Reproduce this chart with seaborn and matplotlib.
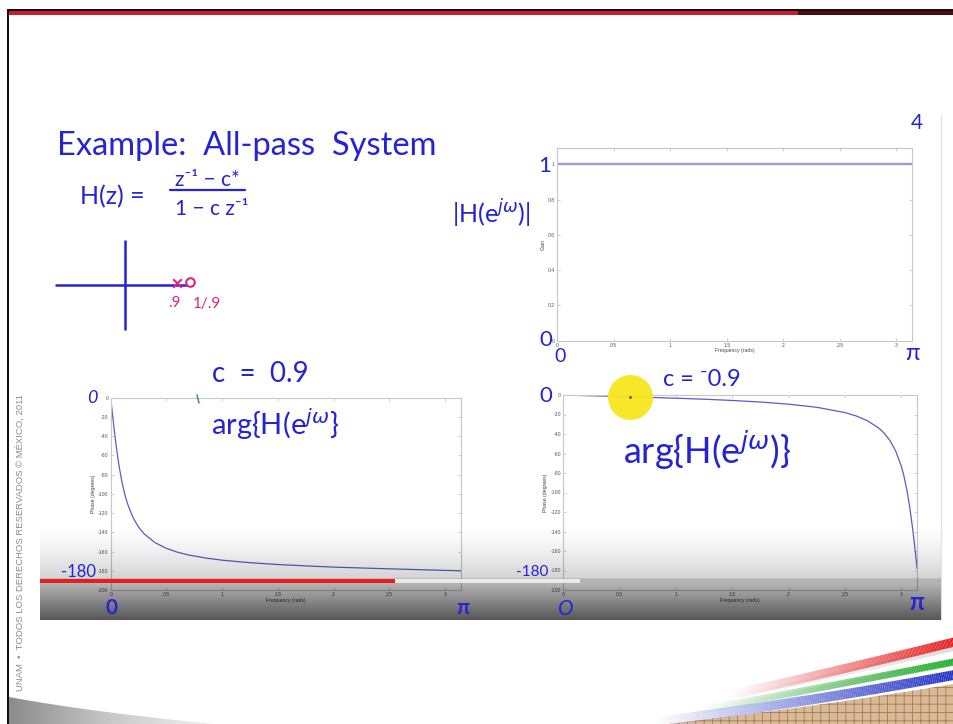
import numpy as np
import matplotlib
matplotlib.use("Agg")
import matplotlib.pyplot as plt
import matplotlib.colors as mcolors
from matplotlib.collections import LineCollection
from matplotlib.patches import Polygon, Circle, Rectangle
import seaborn as sns

# ---------------------------------------------------------------------------
# Data: all-pass system H(z) = (z^-1 - c*) / (1 - c z^-1)
# ---------------------------------------------------------------------------
gain_freq = [0.0, np.pi]
gain_vals = [1.0, 1.0]

# phase response, c = 0.9 (degrees)
phase_pos_freq = [0.0, 0.01, 0.02, 0.035, 0.05, 0.075, 0.1, 0.125, 0.15, 0.2,
                  0.25, 0.3, 0.4, 0.5, 0.6, 0.7, 0.85, 1.0, 1.25, 1.5, 1.75,
                  2.0, 2.5, 3.0, 3.14]
phase_pos_deg = [0.0, -10.9, -21.5, -36.8, -50.8, -71.0, -87.1, -99.9, -110.0,
                 -124.6, -134.5, -141.6, -150.9, -156.7, -160.7, -163.6, -166.7,
                 -169.0, -171.6, -173.5, -174.9, -176.2, -178.0, -179.6, -180.0]

# phase response, c = -0.9 (degrees)
phase_neg_freq = [0.0, 0.25, 0.5, 0.75, 1.0, 1.25, 1.5, 1.75, 2.0, 2.25, 2.5,
                  2.6, 2.7, 2.8, 2.85, 2.9, 2.95, 3.0, 3.025, 3.05, 3.075, 3.1,
                  3.11, 3.12, 3.13, 3.14]
phase_neg_deg = [0.0, -0.8, -1.5, -2.4, -3.3, -4.3, -5.6, -7.2, -9.4, -12.6,
                 -18.0, -21.5, -26.4, -33.9, -39.4, -46.9, -57.4, -73.1, -84.1,
                 -97.9, -115.3, -136.9, -146.6, -156.8, -167.4, -178.3]

# pole and zero of H(z) for c = 0.9
pole_re = [0.9]
zero_re = [1 / 0.9]

freq_ticks = [0, 0.5, 1, 1.5, 2, 2.5, 3]
freq_tick_labels = ["0", "0.5", "1", "1.5", "2", "2.5", "3"]
phase_ticks = list(range(-200, 1, 20))
phase_tick_labels = [str(v) for v in phase_ticks]
gain_ticks = [0, 0.2, 0.4, 0.6, 0.8, 1]
gain_tick_labels = ["0", "0.2", "0.4", "0.6", "0.8", "1"]

# ---------------------------------------------------------------------------
sns.set_theme(style="white")
plt.rcParams["font.family"] = ["Lato", "DejaVu Sans"]
plt.rcParams["mathtext.fontset"] = "dejavusans"
plt.rcParams["hatch.linewidth"] = 0.6

W, H = 954, 724
fig = plt.figure(figsize=(W / 100, H / 100), dpi=100)
fig.patch.set_facecolor("white")

INK = "#2424d6"
PINK = "#e2237c"
CURVE = "#5c5cc4"


def px_axes(x0, y0, x1, y1, **kw):
    return fig.add_axes([x0 / W, 1 - y1 / H, (x1 - x0) / W, (y1 - y0) / H], **kw)


def ink(x, y, s, size, ha="left", va="baseline", color=INK, **kw):
    fig.text(x / W, 1 - y / H, s, fontsize=size, ha=ha, va=va, color=color,
             zorder=6, **kw)


def bezier(p0, p1, p2, n=160):
    t = np.linspace(0, 1, n)[:, None]
    return ((1 - t) ** 2 * np.array(p0) + 2 * (1 - t) * t * np.array(p1)
            + t ** 2 * np.array(p2))


def fading_stripe(ax, p0, p1, p2, color, lw, power=1.5):
    pts = bezier(p0, p1, p2)
    segs = np.stack([pts[:-1], pts[1:]], axis=1)
    rgba = np.tile(mcolors.to_rgba(color), (len(segs), 1))
    rgba[:, 3] = np.linspace(0, 1, len(segs)) ** power
    ax.add_collection(LineCollection(segs, colors=rgba, linewidths=lw,
                                     capstyle="butt"))


# ---------------------------------------------------------------------------
# slide frame and decorations (behind everything)
# ---------------------------------------------------------------------------
bg = fig.add_axes([0, 0, 1, 1], zorder=-5)
bg.set_xlim(0, W)
bg.set_ylim(H, 0)
bg.axis("off")

bg.add_patch(Rectangle((7, 9), W - 7, 2.4, color="#111111", lw=0))
bg.add_patch(Rectangle((9, 11.4), 789, 3.8, color="#cc1a30", lw=0))
bg.add_patch(Rectangle((798, 11.4), W - 798, 3.8, color="#4a0b10", lw=0))
bg.add_patch(Rectangle((7, 9), 2.3, H - 9, color="#111111", lw=0))
bg.plot([941, 941], [115, 620], color="#e2e2e2", lw=0.8)

# bottom-left grey swoosh
sw = np.vstack([bezier((9, 697), (90, 712), (215, 724)), [(9, 724)]])
grad = np.linspace(0, 1, 200)[None, :]
gim = bg.imshow(grad, extent=[9, 215, 724, 696],
                cmap=mcolors.LinearSegmentedColormap.from_list("g", ["#8c8c8c", "#c9c9c9", "#f2f2f2"]),
                aspect="auto", interpolation="bilinear", zorder=1)
spoly = Polygon(sw, closed=True, facecolor="none", edgecolor="none")
bg.add_patch(spoly)
gim.set_clip_path(spoly)

# bottom-right coloured swoosh
grid_top = bezier((668, 724), (815, 707), (954, 684))
bg.add_patch(Polygon(np.vstack([grid_top, [(954, 724)]]), closed=True,
                     facecolor="#d9b996", edgecolor="#a37a57", hatch="++",
                     lw=0, zorder=2))
fading_stripe(bg, (655, 722), (810, 702), (954, 675), "#2233c4", 7, 1.0)
fading_stripe(bg, (690, 714), (820, 690), (954, 661), "#cfcfcf", 4, 1.3)
fading_stripe(bg, (700, 710), (825, 687), (954, 662), "#22b02c", 5, 1.1)
fading_stripe(bg, (720, 700), (840, 675), (954, 648), "#d9d9d9", 4, 1.3)
fading_stripe(bg, (730, 695), (850, 668), (954, 642), "#e51515", 6.5, 1.1)
bg.set_xlim(0, W)
bg.set_ylim(H, 0)

fig.text(20 / W, 1 - 543 / H,
         "UNAM  \u2022  TODOS LOS DERECHOS RESERVADOS \u00a9 M\u00c9XICO, 2011",
         rotation=90, fontsize=6.8, color="#8c8c8c", ha="center", va="center",
         family=["Liberation Sans", "DejaVu Sans"])


# ---------------------------------------------------------------------------
# frequency-response plots
# ---------------------------------------------------------------------------
def matlab_style(ax, ylabel):
    ax.set_facecolor("white")
    for s in ax.spines.values():
        s.set_visible(True)
        s.set_color("#c6c6ce")
        s.set_linewidth(0.8)
    ax.tick_params(direction="in", length=2.5, width=0.5, color="#bdbdbd",
                   labelsize=3.7, labelcolor="#555555", pad=1.5,
                   bottom=True, left=True, top=True, right=True)
    ax.set_xlim(0, np.pi)
    ax.set_xticks(freq_ticks)
    ax.set_xticklabels(freq_tick_labels)
    ax.set_xlabel("Frequency (rads)", fontsize=3.7, color="#444444", labelpad=0.5,
                  family=["Liberation Sans", "DejaVu Sans"])
    ax.set_ylabel(ylabel, fontsize=3.7, color="#444444", labelpad=1.5,
                  family=["Liberation Sans", "DejaVu Sans"])
    for lab in ax.get_xticklabels() + ax.get_yticklabels():
        lab.set_family(["Liberation Sans", "DejaVu Sans"])


ax_gain = px_axes(557, 147.7, 912.5, 340.7)
sns.lineplot(x=gain_freq, y=gain_vals, ax=ax_gain, color="#9c9cd0", linewidth=1.7)
ax_gain.set_ylim(0, 1.095)
ax_gain.set_yticks(gain_ticks)
ax_gain.set_yticklabels(gain_tick_labels)
matlab_style(ax_gain, "Gain")

ax_pos = px_axes(110.7, 397.7, 460.7, 590)
sns.lineplot(x=phase_pos_freq, y=phase_pos_deg, ax=ax_pos, color=CURVE, linewidth=0.9)
ax_pos.set_ylim(-200, 0)
ax_pos.set_yticks(phase_ticks)
ax_pos.set_yticklabels(phase_tick_labels)
matlab_style(ax_pos, "Phase (degrees)")

ax_neg = px_axes(563, 395, 917.3, 590)
sns.lineplot(x=phase_neg_freq, y=phase_neg_deg, ax=ax_neg, color=CURVE, linewidth=0.9)
ax_neg.set_ylim(-200, 0)
ax_neg.set_yticks(phase_ticks)
ax_neg.set_yticklabels(phase_tick_labels)
matlab_style(ax_neg, "Phase (degrees)")

# ---------------------------------------------------------------------------
# pole-zero sketch
# ---------------------------------------------------------------------------
pz = px_axes(55.4, 238.6, 215, 331.4, zorder=1)
pz.set_xlim(-1.2, 1.55)
pz.set_ylim(-0.8, 0.8)
pz.axis("off")
pz.hlines(0, -1.2, zero_re[0], color=INK, lw=1.8)
pz.vlines(0, -0.78, 0.78, color=INK, lw=1.8)
sns.scatterplot(x=pole_re, y=[0.03], marker="x", s=38, color=PINK,
                linewidth=1.5, ax=pz, zorder=3)
sns.scatterplot(x=zero_re, y=[0.05], marker="o", s=38, facecolor="white",
                edgecolor=PINK, linewidth=1.5, ax=pz, zorder=3)
pz.text(pole_re[0] - 0.05, -0.38, ".9", color=PINK, fontsize=11, ha="center")
pz.text(zero_re[0] + 0.3, -0.4, "1/.9", color=PINK, fontsize=11, ha="center")

# ---------------------------------------------------------------------------
# video overlay (player bar) on top of the plots
# ---------------------------------------------------------------------------
ov = fig.add_axes([0, 0, 1, 1], zorder=2)
ov.axis("off")
rows = np.arange(520, 621)
alpha = np.where(rows < 579, 0.18 * ((rows - 520) / 59.0) ** 1.6,
                 0.30 + np.clip(rows - 584, 0, None) / 36.0 * 0.36)
shade = np.zeros((len(rows), 1, 4))
shade[:, 0, 3] = alpha
ov.imshow(shade, extent=[40, 941, 620, 520], aspect="auto", interpolation="bilinear")
ov.add_patch(Rectangle((40, 579), 355, 4, color="#e3201b", lw=0))
ov.add_patch(Rectangle((395, 579), 185, 4, color="#e9e9e9", lw=0))
ov.add_patch(Circle((630.5, 397.5), 22.5, color="#f7e61c", alpha=0.95, lw=0))
ov.add_patch(Circle((630.5, 397.5), 1.3, color="#444444", lw=0))
ov.plot([197, 199], [395, 403], color="#3aa04a", lw=1.1)
ov.set_xlim(0, W)
ov.set_ylim(H, 0)

# ---------------------------------------------------------------------------
# handwritten notes
# ---------------------------------------------------------------------------
ink(57, 155, "Example:  All-pass  System", 23.5)
ink(80, 204, "H(z) =", 18)
ink(207, 186, "z\u207b\u00b9 \u2212 c*", 15, ha="center")
bg.plot([170, 245], [190, 190], color=INK, lw=1.6)
ink(212, 215, "1 \u2212 c z\u207b\u00b9", 15, ha="center")

ink(917, 123, "4", 15, ha="center", va="center")
ink(545, 166, "1", 16, ha="center", va="center")
ink(491, 214, r"|H(e$^{j\omega}$)|", 18, ha="center", va="center")
ink(546, 340, "0", 16, ha="center", va="center")
ink(560, 356, "0", 14, ha="center", va="center")
ink(912, 354, "\u03c0", 17, ha="center", va="center")

ink(212, 382, "c  =  0.9", 20)
ink(92, 398, "0", 13, ha="center", va="center", style="italic")
ink(211, 435, r"arg{H(e$^{j\omega}$}", 21)
ink(79, 572, "-180", 12, ha="center", va="center")
ink(112, 608, "0", 15, ha="center", va="center", weight="bold")
ink(463, 608, "\u03c0", 15, ha="center", va="center", weight="bold")

ink(546, 396, "0", 16, ha="center", va="center")
ink(663, 386, "c = \u207b0.9", 17)
ink(623, 464, r"arg{H(e$^{j\omega}$)}", 26)
ink(532, 572, "-180", 11, ha="center", va="center")
ink(566, 609, "O", 15, ha="center", va="center", style="italic")
ink(917, 602, "\u03c0", 17, ha="center", va="center", weight="bold")

fig.savefig("out.png", dpi=100)
